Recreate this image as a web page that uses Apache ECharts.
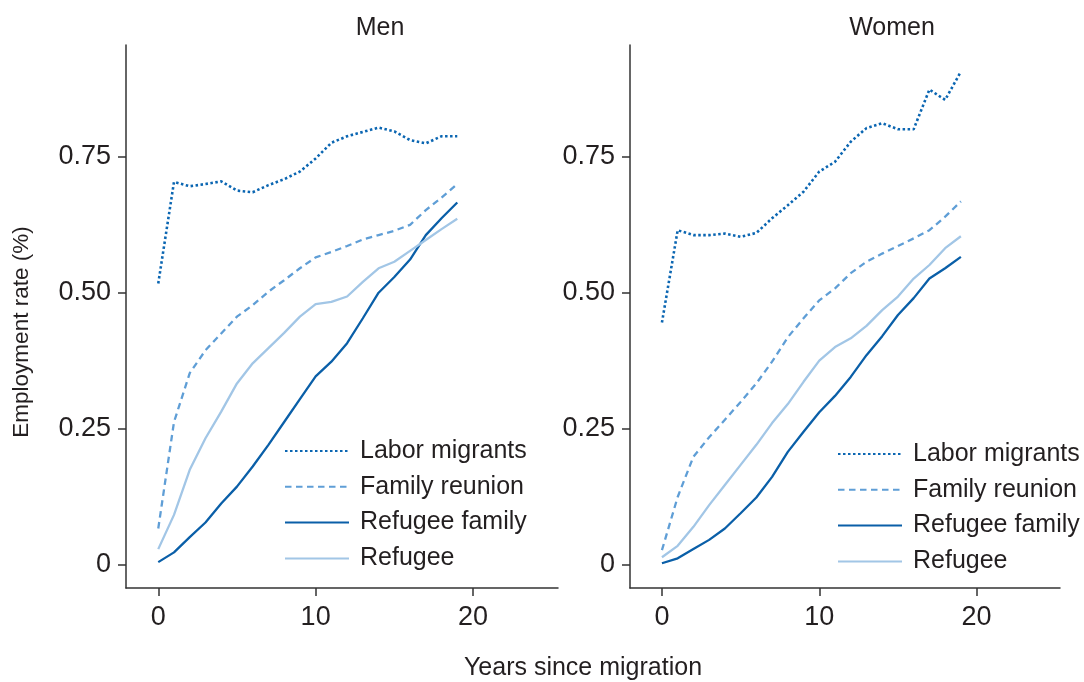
<!DOCTYPE html>
<html>
<head>
<meta charset="utf-8">
<script src="https://cdn.jsdelivr.net/npm/echarts@6/dist/echarts.min.js"></script>
<style>
  html, body { margin: 0; padding: 0; background: #fff; }
  #chart { width: 1084px; height: 682px; }
</style>
</head>
<body>
<div id="chart"></div>
<script>
const years = [0, 1, 2, 3, 4, 5, 6, 7, 8, 9, 10, 11, 12, 13, 14, 15, 16, 17, 18, 19];
const seriesNames = ['Labor migrants', 'Family reunion', 'Refugee family', 'Refugee'];
const xTicks = [0, 10, 20];
const yTicks = [0, 0.25, 0.5, 0.75];

// men
const menLabor = [0.517, 0.704, 0.696, 0.700, 0.705, 0.688, 0.685, 0.698, 0.709, 0.723, 0.747, 0.776, 0.788, 0.796, 0.804, 0.797, 0.781, 0.775, 0.788, 0.788];
const menFamily = [0.066, 0.262, 0.352, 0.394, 0.425, 0.456, 0.477, 0.502, 0.523, 0.545, 0.565, 0.575, 0.586, 0.598, 0.606, 0.614, 0.625, 0.652, 0.675, 0.700];
const menRefFamily = [0.004, 0.022, 0.050, 0.077, 0.112, 0.143, 0.180, 0.220, 0.262, 0.304, 0.346, 0.373, 0.407, 0.453, 0.500, 0.529, 0.561, 0.606, 0.637, 0.666];
const menRefugee = [0.028, 0.091, 0.174, 0.232, 0.281, 0.333, 0.370, 0.398, 0.426, 0.456, 0.479, 0.483, 0.493, 0.520, 0.545, 0.557, 0.577, 0.597, 0.617, 0.636];

// women
const womenLabor = [0.445, 0.615, 0.606, 0.606, 0.609, 0.603, 0.610, 0.637, 0.661, 0.686, 0.723, 0.741, 0.778, 0.803, 0.812, 0.801, 0.801, 0.874, 0.855, 0.907];
const womenFamily = [0.026, 0.124, 0.198, 0.234, 0.266, 0.299, 0.333, 0.373, 0.418, 0.453, 0.486, 0.508, 0.536, 0.557, 0.572, 0.586, 0.600, 0.615, 0.640, 0.668];
const womenRefFamily = [0.002, 0.011, 0.028, 0.045, 0.066, 0.094, 0.123, 0.161, 0.207, 0.244, 0.280, 0.310, 0.345, 0.385, 0.420, 0.459, 0.490, 0.526, 0.545, 0.566];
const womenRefugee = [0.013, 0.034, 0.069, 0.109, 0.146, 0.183, 0.220, 0.260, 0.295, 0.336, 0.375, 0.400, 0.416, 0.439, 0.468, 0.493, 0.526, 0.551, 0.582, 0.604];

const FONT = 'Liberation Sans';
const TXT = '#231f20';
const AX = '#333333';

const styles = {
  'Labor migrants': { color: '#0b66b2', type: [2.5, 2.5], width: 2.6 },
  'Family reunion': { color: '#5f9ed6', type: [6.5, 4.5], width: 2.3 },
  'Refugee family': { color: '#0a5fa8', type: 'solid', width: 2.3 },
  'Refugee': { color: '#a2c6e6', type: 'solid', width: 2.3 }
};

function pairs(vals) {
  return years.map((y, i) => [y, vals[i]]);
}

function makeSeries(name, vals, idx) {
  const s = styles[name];
  return {
    name: name,
    type: 'line',
    xAxisIndex: idx,
    yAxisIndex: idx,
    data: pairs(vals),
    symbol: 'none',
    color: s.color,
    lineStyle: { color: s.color, type: s.type, width: s.width },
    animation: false
  };
}

function xAxisFor(idx, min, max) {
  return {
    type: 'value',
    gridIndex: idx,
    min: min,
    max: max,
    axisLine: { show: true, onZero: false, lineStyle: { color: AX, width: 1.5 } },
    axisTick: { show: true, length: 8, lineStyle: { color: AX, width: 1.5 }, customValues: xTicks },
    axisLabel: { customValues: xTicks, margin: 16, fontSize: 27, color: TXT, fontFamily: FONT },
    splitLine: { show: false }
  };
}

function yAxisFor(idx) {
  return {
    type: 'value',
    gridIndex: idx,
    min: -0.0436,
    max: 0.956,
    axisLine: { show: true, onZero: false, lineStyle: { color: AX, width: 1.5 } },
    axisTick: { show: true, length: 8, lineStyle: { color: AX, width: 1.5 }, customValues: yTicks },
    axisLabel: {
      customValues: yTicks,
      margin: 15,
      fontSize: 27,
      color: TXT,
      fontFamily: FONT,
      formatter: function (v) { return v === 0 ? '0' : v.toFixed(2); }
    },
    splitLine: { show: false }
  };
}

function legendAt(left, top) {
  return {
    orient: 'vertical',
    left: left,
    top: top,
    padding: 0,
    itemWidth: 64,
    itemHeight: 14,
    itemGap: 6.8,
    data: seriesNames,
    selectedMode: false,
    itemStyle: { opacity: 0 },
    textStyle: { fontSize: 25, color: TXT, fontFamily: FONT, lineHeight: 29, padding: [0, 0, 0, 6] }
  };
}

const chart = echarts.init(document.getElementById('chart'));
chart.setOption({
  backgroundColor: '#fff',
  animation: false,
  grid: [
    { left: 126, top: 45, width: 432, height: 543 },
    { left: 630, top: 45, width: 430, height: 543 }
  ],
  xAxis: [xAxisFor(0, -2.05, 25.4), xAxisFor(1, -2.03, 25.3)],
  yAxis: [yAxisFor(0), yAxisFor(1)],
  legend: [legendAt(284, 436.5), legendAt(837, 439.5)],
  graphic: [
    { type: 'text', x: 380, y: 28, style: { text: 'Men', fontSize: 25, fill: TXT, fontFamily: FONT, textAlign: 'center', textVerticalAlign: 'middle' } },
    { type: 'text', x: 892, y: 28, style: { text: 'Women', fontSize: 25, fill: TXT, fontFamily: FONT, textAlign: 'center', textVerticalAlign: 'middle' } },
    { type: 'text', x: 583, y: 668, style: { text: 'Years since migration', fontSize: 25, fill: TXT, fontFamily: FONT, textAlign: 'center', textVerticalAlign: 'middle' } },
    { type: 'text', x: 22, y: 332, rotation: Math.PI / 2, style: { text: 'Employment rate (%)', fontSize: 22.5, fill: TXT, fontFamily: FONT, textAlign: 'center', textVerticalAlign: 'middle' } }
  ],
  series: [
    makeSeries('Labor migrants', menLabor, 0),
    makeSeries('Family reunion', menFamily, 0),
    makeSeries('Refugee family', menRefFamily, 0),
    makeSeries('Refugee', menRefugee, 0),
    makeSeries('Labor migrants', womenLabor, 1),
    makeSeries('Family reunion', womenFamily, 1),
    makeSeries('Refugee family', womenRefFamily, 1),
    makeSeries('Refugee', womenRefugee, 1)
  ]
});
window.addEventListener('resize', function () { chart.resize(); });
</script>
</body>
</html>
